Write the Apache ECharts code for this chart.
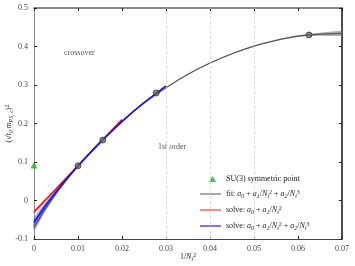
<!DOCTYPE html>
<html><head><meta charset="utf-8">
<script src="https://cdn.jsdelivr.net/npm/echarts@6/dist/echarts.min.js"></script>
<style>html,body{margin:0;padding:0;background:#fff}#c{width:355px;height:266px}</style>
</head><body><div id="c"></div>
<script>
// Data
var latX = [0.01, 0.015625, 0.02778, 0.0625];
var latY = [0.090, 0.157, 0.279, 0.430];
var su3X = [0];
var su3Y = [0.092];

var fitX = [0, 0.0025, 0.005, 0.0075, 0.01, 0.015, 0.02, 0.025, 0.03, 0.035, 0.04, 0.045, 0.05, 0.055, 0.06, 0.065, 0.07];
var fitY = [-0.070, -0.023, 0.018, 0.055, 0.090, 0.152, 0.206, 0.253, 0.293, 0.328, 0.357, 0.381, 0.401, 0.416, 0.427, 0.432, 0.434];
var fitErr = [0.010, 0.007, 0.004, 0.002, 0.001, 0.001, 0.001, 0.001, 0.001, 0.001, 0.001, 0.001, 0.001, 0.001, 0.002, 0.004, 0.006];

var redX = [0, 0.005, 0.01, 0.015, 0.02];
var redY = [-0.030, 0.030, 0.090, 0.150, 0.210];
var redErr = [0.004, 0.003, 0.002, 0.002, 0.003];

var blueX = [0, 0.0025, 0.005, 0.0075, 0.01, 0.015, 0.02, 0.025, 0.03];
var blueY = [-0.057, -0.015, 0.022, 0.057, 0.090, 0.150, 0.205, 0.254, 0.298];
var blueErr = [0.012, 0.008, 0.005, 0.002, 0.001, 0.001, 0.001, 0.001, 0.001];

var gridX = [0.03, 0.04, 0.05];

function pairs(xs, ys) { return xs.map(function (x, i) { return [x, ys[i]]; }); }

var serif = '"Liberation Serif", "DejaVu Serif", serif';
var chart = echarts.init(document.getElementById('c'), null, {renderer: 'canvas'});

function band(xs, ys, es, color, z) {
  return {
    type: 'custom', data: [0], silent: true, z: z,
    renderItem: function (params, api) {
      var pts = [];
      for (var i = 0; i < xs.length; i++) pts.push(api.coord([xs[i], ys[i] + es[i]]));
      for (var j = xs.length - 1; j >= 0; j--) pts.push(api.coord([xs[j], ys[j] - es[j]]));
      return {type: 'polygon', shape: {points: pts, smooth: 0.2}, style: {fill: color}};
    }
  };
}

var series = [];
series.push(band(fitX, fitY, fitErr, 'rgba(110,110,110,0.55)', 2));
series.push(band(redX, redY, redErr, 'rgba(255,80,80,0.5)', 2));
series.push(band(blueX, blueY, blueErr, 'rgba(80,80,255,0.5)', 2));
series.push({name: 'fit', type: 'line', data: pairs(fitX, fitY), symbol: 'none', smooth: 0.3,
  lineStyle: {color: '#555', width: 1.2}, z: 3,
  markLine: {silent: true, symbol: 'none', label: {show: false},
    lineStyle: {color: '#d4d4d4', type: [3, 2], width: 0.8},
    data: gridX.map(function (x) { return {xAxis: x}; })}});
series.push({name: 'red', type: 'line', data: pairs(redX, redY), symbol: 'none', smooth: 0.3,
  lineStyle: {color: '#ee1111', width: 1.6}, z: 4});
series.push({name: 'blue', type: 'line', data: pairs(blueX, blueY), symbol: 'none', smooth: 0.3,
  lineStyle: {color: '#1515ee', width: 1.6}, z: 5});
series.push({name: 'lat', type: 'scatter', data: pairs(latX, latY), symbol: 'circle', symbolSize: 6,
  itemStyle: {color: '#666', borderColor: '#222', borderWidth: 0.8}, z: 6});
series.push({name: 'SU(3) symmetric point', type: 'scatter', data: pairs(su3X, su3Y), symbol: 'triangle', symbolSize: 7,
  itemStyle: {color: '#1db31d'}, z: 7, clip: false});
// legend-only entries
series.push({name: 'L1', type: 'line', data: [], itemStyle: {color: '#aaa'}});
series.push({name: 'L2', type: 'line', data: [], itemStyle: {color: '#ff8a8a'}});
series.push({name: 'L3', type: 'line', data: [], itemStyle: {color: '#7777ff'}});

var legRich = {
  r: {fontFamily: serif, fontSize: 8, color: '#222'},
  i: {fontFamily: serif, fontSize: 8, fontStyle: 'italic', color: '#222'},
  s: {fontFamily: serif, fontSize: 6, fontStyle: 'italic', color: '#222', padding: [4, 0, 0, 0]},
  u: {fontFamily: serif, fontSize: 6, color: '#222', padding: [0, 0, 4, 0]}
};
var legText = {
  'SU(3) symmetric point': '{r|SU(3) symmetric point}',
  'L1': '{r|fit: }{i|a}{s|0}{r| + }{i|a}{s|1}{r|/}{i|N}{s|t}{u|2}{r| + }{i|a}{s|2}{r|/}{i|N}{s|t}{u|3}',
  'L2': '{r|solve: }{i|a}{s|0}{r| + }{i|a}{s|1}{r|/}{i|N}{s|t}{u|2}',
  'L3': '{r|solve: }{i|a}{s|0}{r| + }{i|a}{s|1}{r|/}{i|N}{s|t}{u|2}{r| + }{i|a}{s|2}{r|/}{i|N}{s|t}{u|3}'
};

var tickLabel = {fontFamily: serif, fontSize: 8, color: '#444'};

chart.setOption({
  animation: false,
  grid: {left: 34, right: 13, top: 8, bottom: 27, containLabel: false, outerBoundsMode: 'none'},
  legend: [
    {data: [{name: 'SU(3) symmetric point', icon: 'triangle'}], left: 209, top: 175, padding: 0, itemWidth: 7, itemHeight: 6,
     itemGap: 0, formatter: function (n) { return legText[n]; }, textStyle: {rich: legRich, padding: [0, 0, 0, 5]}, selectedMode: false},
    {data: [{name: 'L1', icon: 'rect'}, {name: 'L2', icon: 'rect'}, {name: 'L3', icon: 'rect'}],
     orient: 'vertical', left: 200, top: 189, padding: 0, itemWidth: 21, itemHeight: 2, itemGap: 6,
     formatter: function (n) { return legText[n]; }, textStyle: {rich: legRich}, selectedMode: false}
  ],
  xAxis: [
    {type: 'value', min: 0, max: 0.07, interval: 0.01, position: 'bottom',
     name: '{r|1/}{i|N}{s|t}{u|2}', nameLocation: 'middle', nameGap: 13, nameMoveOverlap: false,
     nameTextStyle: {rich: legRich},
     axisLine: {onZero: false, lineStyle: {color: '#444', width: 1}},
     axisTick: {inside: true, length: 3, lineStyle: {color: '#222'}},
     axisLabel: Object.assign({margin: 6, formatter: function (v) { return v === 0 ? '0' : String(+v.toFixed(2)); }}, tickLabel),
     splitLine: {show: false}},
    {type: 'value', min: 0, max: 0.07, interval: 0.01, position: 'top',
     axisLine: {onZero: false, lineStyle: {color: '#888', width: 2}},
     axisTick: {inside: true, length: 3, lineStyle: {color: '#222'}},
     axisLabel: {show: false}, splitLine: {show: false}}
  ],
  yAxis: [
    {type: 'value', min: -0.1, max: 0.5, interval: 0.1, position: 'left',
     name: '{r|(√}{i|t}{s|0}{r| }{i|m}{s|PS, c}{r|)}{u|2}', nameLocation: 'middle', nameGap: 20, nameRotate: 90, nameMoveOverlap: false,
     nameTextStyle: {rich: legRich},
     axisLine: {onZero: false, lineStyle: {color: '#888', width: 1}},
     axisTick: {inside: true, length: 3, lineStyle: {color: '#222'}},
     axisLabel: Object.assign({margin: 6, formatter: function (v) { return v === 0 ? '0' : String(+v.toFixed(1)); }}, tickLabel),
     splitLine: {show: false}},
    {type: 'value', min: -0.1, max: 0.5, interval: 0.1, position: 'right',
     axisLine: {onZero: false, lineStyle: {color: '#111', width: 1.5}},
     axisTick: {inside: true, length: 3, lineStyle: {color: '#222'}},
     axisLabel: {show: false}, splitLine: {show: false}}
  ],
  graphic: [
    {type: 'text', left: 64, top: 49, style: {text: 'crossover', font: '8px ' + serif, fill: '#555'}},
    {type: 'text', left: 158, top: 143, style: {text: '1st order', font: '8px ' + serif, fill: '#555'}}
  ],
  series: series
});
</script></body></html>
